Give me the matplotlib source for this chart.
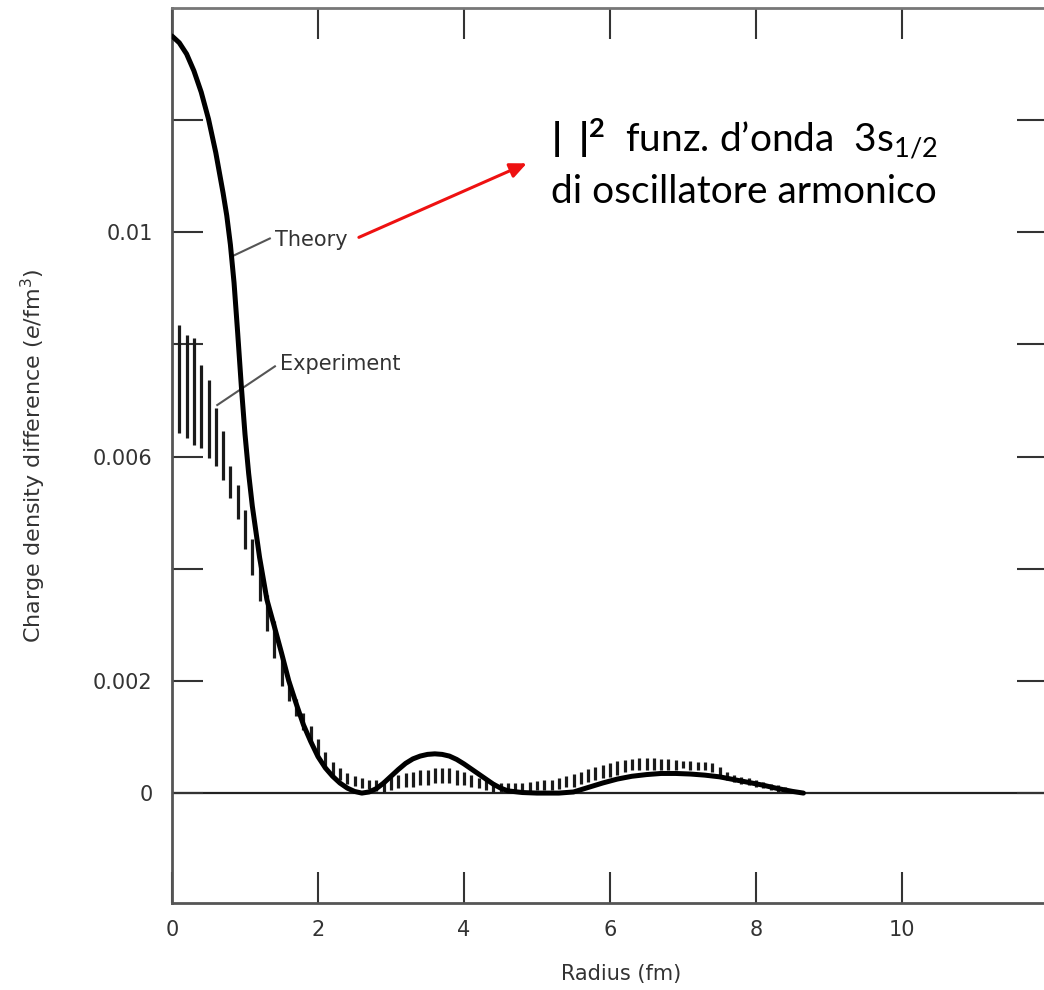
import numpy as np
import matplotlib
matplotlib.use('Agg')
import matplotlib.pyplot as plt

# theory curve (radius in fm, density in e/fm^3)
r_theory = [0.0, 0.1, 0.2, 0.3, 0.4, 0.5, 0.6, 0.7, 0.75, 0.8, 0.85, 0.9, 0.95, 1.0, 1.05, 1.1,
            1.2, 1.3, 1.4, 1.5, 1.6, 1.7, 1.8, 1.9, 2.0, 2.1, 2.2, 2.3, 2.4, 2.5, 2.6, 2.7,
            2.8, 2.9, 3.0, 3.1, 3.2, 3.3, 3.4, 3.5, 3.6, 3.7, 3.8, 3.9, 4.0, 4.1, 4.2, 4.3,
            4.4, 4.5, 4.6, 4.8, 5.0, 5.3, 5.5, 5.7, 5.9, 6.1, 6.3, 6.5, 6.7, 6.9, 7.1, 7.3,
            7.5, 7.7, 7.9, 8.1, 8.3, 8.5, 8.65]
rho_theory = [0.01350, 0.01338, 0.01318, 0.01288, 0.01250, 0.01202, 0.01142, 0.01070, 0.01030,
              0.00978, 0.00910, 0.00820, 0.00725, 0.00640, 0.00570, 0.00512, 0.00420, 0.00345,
              0.00298, 0.00250, 0.00200, 0.00160, 0.00122, 0.00092, 0.00065, 0.00045, 0.00030,
              0.00018, 0.00009, 0.00003, 0.00000, 0.00002, 0.00008, 0.00018, 0.00030, 0.00042,
              0.00053, 0.00061, 0.00066, 0.00069, 0.00070, 0.00069, 0.00066, 0.00060, 0.00052,
              0.00043, 0.00034, 0.00025, 0.00016, 0.00009, 0.00004, 0.00001, 0.00000, 0.00000,
              0.00002, 0.00010, 0.00018, 0.00025, 0.00030, 0.00033, 0.00035, 0.00035, 0.00034,
              0.00032, 0.00029, 0.00024, 0.00019, 0.00014, 0.00008, 0.00003, 0.00000]

# experiment error bars: radius, upper and lower end
r_exp = [0.1, 0.2, 0.3, 0.4, 0.5, 0.6, 0.7, 0.8, 0.9, 1.0, 1.1, 1.2, 1.3, 1.4, 1.5, 1.6, 1.7,
         1.8, 1.9, 2.0, 2.1, 2.2, 2.3, 2.4, 2.5, 2.6, 2.7, 2.8, 2.9, 3.0, 3.1, 3.2, 3.3, 3.4,
         3.5, 3.6, 3.7, 3.8, 3.9, 4.0, 4.1, 4.2, 4.3, 4.4, 4.5, 4.6, 4.7, 4.8, 4.9, 5.0, 5.1,
         5.2, 5.3, 5.4, 5.5, 5.6, 5.7, 5.8, 5.9, 6.0, 6.1, 6.2, 6.3, 6.4, 6.5, 6.6, 6.7, 6.8,
         6.9, 7.0, 7.1, 7.2, 7.3, 7.4, 7.5, 7.6, 7.7, 7.8, 7.9, 8.0, 8.1, 8.2, 8.3, 8.4, 8.5]
exp_hi = [0.00834, 0.00816, 0.00811, 0.00763, 0.00736, 0.00687, 0.00646, 0.00584, 0.00550,
          0.00504, 0.00453, 0.00409, 0.00354, 0.00306, 0.00244, 0.00200, 0.00168, 0.00143,
          0.00120, 0.00097, 0.00073, 0.00055, 0.00044, 0.00035, 0.00030, 0.00027, 0.00023,
          0.00023, 0.00023, 0.00028, 0.00032, 0.00035, 0.00037, 0.00041, 0.00041, 0.00044,
          0.00044, 0.00044, 0.00041, 0.00037, 0.00032, 0.00027, 0.00023, 0.00019, 0.00018,
          0.00018, 0.00018, 0.00018, 0.00019, 0.00021, 0.00023, 0.00023, 0.00027, 0.00030,
          0.00034, 0.00038, 0.00043, 0.00046, 0.00050, 0.00054, 0.00057, 0.00059, 0.00061,
          0.00062, 0.00062, 0.00062, 0.00061, 0.00060, 0.00059, 0.00058, 0.00057, 0.00055,
          0.00055, 0.00053, 0.00046, 0.00037, 0.00032, 0.00028, 0.00027, 0.00023, 0.00019,
          0.00016, 0.00014, 0.00011, 0.00005]
exp_lo = [0.00643, 0.00634, 0.00620, 0.00616, 0.00598, 0.00584, 0.00559, 0.00527, 0.00489,
          0.00435, 0.00389, 0.00342, 0.00289, 0.00241, 0.00191, 0.00165, 0.00138, 0.00112,
          0.00090, 0.00067, 0.00044, 0.00032, 0.00023, 0.00016, 0.00012, 0.00009, 0.00007,
          0.00004, 0.00002, 0.00005, 0.00009, 0.00011, 0.00011, 0.00014, 0.00014, 0.00018,
          0.00018, 0.00018, 0.00014, 0.00014, 0.00011, 0.00009, 0.00005, 0.00002, 0.00002,
          0.00002, 0.00002, 0.00002, 0.00004, 0.00005, 0.00005, 0.00005, 0.00007, 0.00011,
          0.00011, 0.00016, 0.00019, 0.00023, 0.00027, 0.00028, 0.00032, 0.00037, 0.00041,
          0.00041, 0.00042, 0.00042, 0.00042, 0.00042, 0.00042, 0.00044, 0.00042, 0.00041,
          0.00041, 0.00037, 0.00032, 0.00023, 0.00019, 0.00016, 0.00014, 0.00011, 0.00009,
          0.00005, 0.00002, 0.00002, 0.00000]

xticks = [0, 2, 4, 6, 8, 10]
yticks = [0, 0.002, 0.004, 0.006, 0.008, 0.010, 0.012]
ytick_labels = ['0', '0.002', '', '0.006', '', '0.01', '']

plt.rcParams['mathtext.fontset'] = 'custom'
plt.rcParams['mathtext.rm'] = 'Lato'
plt.rcParams['mathtext.bf'] = 'Lato:bold'
plt.rcParams['mathtext.it'] = 'Lato:italic'
plt.rcParams['mathtext.default'] = 'regular'

fig = plt.figure(figsize=(10.44, 9.9), dpi=100)
ax = fig.add_axes([172/1044, 87/990, 876/1044, 895/990])

# zero line, experiment bars, theory curve
ax.axhline(0, color='#222222', lw=1.6, zorder=1)
ax.vlines(r_exp, exp_lo, exp_hi, color='#1a1a1a', lw=2.3, zorder=2)
ax.plot(r_theory, rho_theory, color='black', lw=3.6, solid_capstyle='round', zorder=3)

ax.set_xlim(0, 12)
ax.set_ylim(-0.00196, 0.014)

ax.set_xticks(xticks)
ax.set_xticklabels([str(t) for t in xticks])
ax.set_yticks(yticks)
ax.set_yticklabels(ytick_labels)
ax.tick_params(direction='in', length=22, width=1.5, color='#333333',
               labelsize=15, labelcolor='#333333', top=True, right=True)
ax.tick_params(axis='x', pad=12)
ax.tick_params(axis='y', pad=14)

for side in ['left', 'bottom', 'top', 'right']:
    ax.spines[side].set_color('#555555')
    ax.spines[side].set_linewidth(2)
ax.spines['top'].set_color('#777777')

ax.set_xlabel('Radius (fm)', fontsize=15, color='#333333')
ax.xaxis.set_label_coords(0.513, -0.068)
ax.set_ylabel(r'Charge density difference ($\mathit{e}$/fm$^3$)', fontsize=16,
              color='#333333', math_fontfamily='dejavusans')
ax.yaxis.set_label_coords(-0.142, 0.50)

# curve labels with leader lines
ax.plot([0.82, 1.34], [0.00957, 0.00989], color='#555555', lw=1.5)
ax.text(1.41, 0.00986, 'Theory', fontsize=15, color='#333333', va='center', ha='left')
ax.plot([0.62, 1.41], [0.00692, 0.00761], color='#555555', lw=1.5)
ax.text(1.48, 0.00766, 'Experiment', fontsize=15, color='#333333', va='center', ha='left')

# red arrow and annotation
ax.annotate('', xy=(4.86, 0.01123), xytext=(2.56, 0.00991),
            arrowprops=dict(arrowstyle='-|>,head_length=1.0,head_width=0.45',
                            color='#ee1111', lw=2.2, shrinkA=0, shrinkB=0))
ax.text(7.84, 0.01143, r'$\mathbf{|\;\;|^{2}}$  funz. d’onda  3s$_{1/2}$', fontsize=28,
        family='Lato', ha='center', va='baseline', math_fontfamily='custom')
ax.text(7.84, 0.01053, 'di oscillatore armonico', fontsize=28, family='Lato',
        ha='center', va='baseline')

fig.savefig('out.png', dpi=100)
